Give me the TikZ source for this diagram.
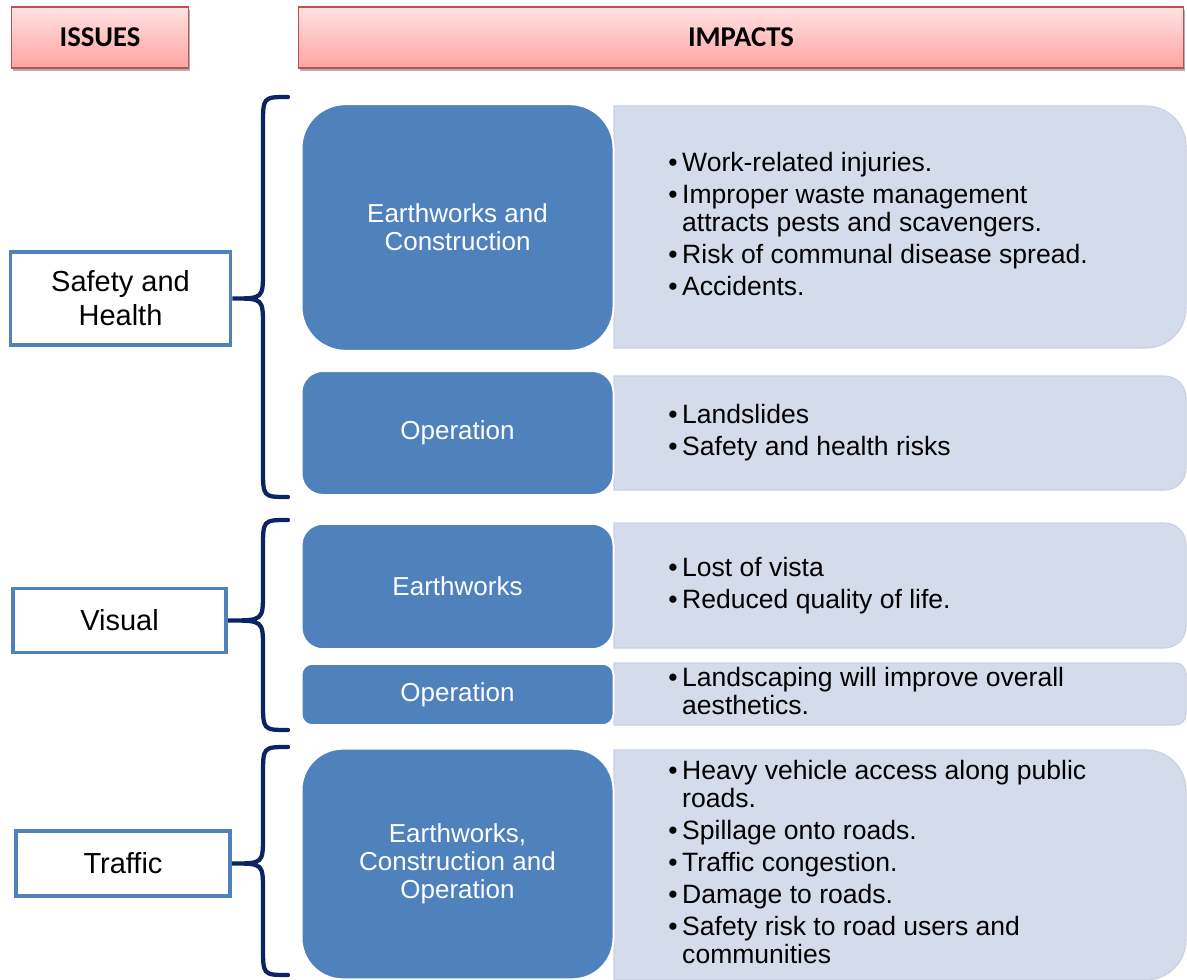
\documentclass[tikz,border=0pt]{standalone}
\usepackage{fontspec}
\setmainfont{Liberation Sans}
\newfontfamily\headfont{Carlito}
\usetikzlibrary{shadows}
\definecolor{boxblue}{HTML}{4F81BD}
\definecolor{paleblue}{HTML}{D4DBEA}
\definecolor{paleedge}{HTML}{C8D1E4}
\definecolor{bracenavy}{HTML}{0C2463}
\definecolor{headred}{HTML}{C0504D}
\definecolor{headtop}{HTML}{FFE2E2}
\definecolor{headbot}{HTML}{FFA4A2}
\tikzset{
  header/.style = {draw = headred, line width = 1.2pt, top color = headtop, bottom color = headbot,
    drop shadow = {fill = black, opacity = 0.3, shadow xshift = 1.2pt, shadow yshift = -2.2pt},
    minimum height = 46pt, font = \headfont\bfseries\fontsize{21.5}{24}\selectfont},
  issue/.style = {draw = boxblue, line width = 2.8pt, fill = white, align = center,
    font = \fontsize{21.75}{25.5}\selectfont},
  stage/.style = {fill = boxblue, draw = white, line width = 1.5pt, text = white, align = center,
    minimum width = 234pt, font = \fontsize{19.5}{21}\selectfont},
  impact/.style = {anchor = west, inner sep = 0pt, align = left, font = \fontsize{19.9}{21}\selectfont},
  brace/.style = {draw = bracenavy, line width = 3.2pt, line cap = round}
}
\begin{document}
\begin{tikzpicture}[x = 0.75pt, y = -0.75pt]
\useasboundingbox (0,0) rectangle (1187,980);

\node[header, minimum width = 133pt] (iss) at (100,37.5) {ISSUES};
\node[header, minimum width = 664pt] (imp) at (741,37.5) {IMPACTS};

\foreach \ya/\yb/\rad in {106/348/30pt, 376/490/16pt, 523/648/16pt, 663/725/8pt, 750/980/30pt}
   \draw[fill = paleblue, draw = paleedge, line width = 0.8pt] (900,\ya) [rounded corners = \rad] -- (1186,\ya) -- (1186,\yb) -- (900,\yb) [sharp corners] -- (614,\yb) -- (614,\ya) -- cycle;

\node[stage, minimum height = 185pt, rounded corners = 33pt] (ec1) at (457.5,227.5) {Earthworks and\\Construction};
\node[stage, minimum height = 93pt, rounded corners = 16pt] (op1) at (457.5,433) {Operation};
\node[stage, minimum height = 94pt, rounded corners = 16pt] (ew2) at (457.5,586.5) {Earthworks};
\node[stage, minimum height = 46pt, rounded corners = 8pt] (op2) at (457.5,694.5) {Operation};
\node[stage, minimum height = 173pt, rounded corners = 31pt] (ec3) at (457.5,864) {Earthworks,\\Construction and\\Operation};

\node[impact] (im1) at (668,228) {\begin{tabular}{@{}l@{\hspace{3.5pt}}l@{}}
   \textbullet & Work-related injuries.\\[3pt]
   \textbullet & Improper waste management\\
               & attracts pests and scavengers.\\[3pt]
   \textbullet & Risk of communal disease spread.\\[3pt]
   \textbullet & Accidents.
   \end{tabular}};
\node[impact] (im2) at (668,434) {\begin{tabular}{@{}l@{\hspace{3.5pt}}l@{}}
   \textbullet & Landslides\\[3pt]
   \textbullet & Safety and health risks
   \end{tabular}};
\node[impact] (im3) at (668,587) {\begin{tabular}{@{}l@{\hspace{3.5pt}}l@{}}
   \textbullet & Lost of vista\\[3pt]
   \textbullet & Reduced quality of life.
   \end{tabular}};
\node[impact] (im4) at (668,695) {\begin{tabular}{@{}l@{\hspace{3.5pt}}l@{}}
   \textbullet & Landscaping will improve overall\\
               & aesthetics.
   \end{tabular}};
\node[impact] (im5) at (668,866) {\begin{tabular}{@{}l@{\hspace{3.5pt}}l@{}}
   \textbullet & Heavy vehicle access along public\\
               & roads.\\[3pt]
   \textbullet & Spillage onto roads.\\[3pt]
   \textbullet & Traffic congestion.\\[3pt]
   \textbullet & Damage to roads.\\[3pt]
   \textbullet & Safety risk to road users and\\
               & communities
   \end{tabular}};

\node[issue, minimum width = 165pt, minimum height = 70pt] (sh) at (120.5,298.5) {Safety and\\Health};
\node[issue, minimum width = 160pt, minimum height = 48pt] (vis) at (119.5,620.5) {Visual};
\node[issue, minimum width = 161pt, minimum height = 49pt] (trf) at (123,863.5) {Traffic};

\coordinate (t1) at (288,97);  \coordinate (b1) at (288,497);
\coordinate (t2) at (288,520); \coordinate (b2) at (288,730);
\coordinate (t3) at (288,747); \coordinate (b3) at (288,975);

\draw[brace] (t1) .. controls (263,97) .. (263,125) -- (263,271) .. controls (263,298.5) .. (sh.east)
   .. controls (263,298.5) .. (263,326) -- (263,469) .. controls (263,497) .. (b1);
\draw[brace] (t2) .. controls (263,520) .. (263,548) -- (263,593) .. controls (263,620.5) .. (vis.east)
   .. controls (263,620.5) .. (263,648) -- (263,702) .. controls (263,730) .. (b2);
\draw[brace] (t3) .. controls (263,747) .. (263,775) -- (263,836) .. controls (263,863.5) .. (trf.east)
   .. controls (263,863.5) .. (263,891) -- (263,947) .. controls (263,975) .. (b3);

\end{tikzpicture}
\end{document}
